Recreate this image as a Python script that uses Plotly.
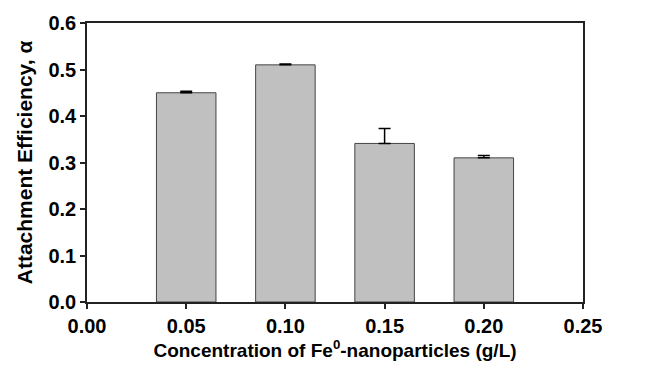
import plotly.graph_objects as go

concentrations = [0.05, 0.10, 0.15, 0.20]
alpha_values = [0.450, 0.510, 0.341, 0.310]
alpha_errors = [0.003, 0.002, 0.032, 0.005]
x_tick_vals = [0.00, 0.05, 0.10, 0.15, 0.20, 0.25]
x_tick_text = ["0.00", "0.05", "0.10", "0.15", "0.20", "0.25"]
y_tick_vals = [0.0, 0.1, 0.2, 0.3, 0.4, 0.5, 0.6]
y_tick_text = ["0.0", "0.1", "0.2", "0.3", "0.4", "0.5", "0.6"]

fig = go.Figure()
fig.add_trace(go.Bar(
    x=concentrations,
    y=alpha_values,
    width=0.03,
    marker=dict(color="#c0c0c0", line=dict(color="#454545", width=1)),
    error_y=dict(type="data", array=alpha_errors, arrayminus=[0] * len(alpha_errors),
                 symmetric=False, color="black", thickness=1.5, width=6),
    showlegend=False,
))

axis_common = dict(
    showline=True, linecolor="#222222", linewidth=1.5, mirror=True,
    ticks="outside", ticklen=5, tickwidth=1.5, tickcolor="#222222",
    showgrid=False, zeroline=False, automargin=False,
    tickfont=dict(family="Liberation Sans, Arial", size=20, color="black", weight="bold"),
)

fig.update_layout(
    width=668, height=376,
    margin=dict(l=87, r=85, t=23, b=74),
    plot_bgcolor="white", paper_bgcolor="white",
    font=dict(family="Liberation Sans, Arial", color="black", weight="bold"),
    xaxis=dict(range=[0, 0.25], tickvals=x_tick_vals, ticktext=x_tick_text,
               title=dict(text="Concentration of Fe<sup>0</sup>-nanoparticles (g/L)",
                          font=dict(size=19, weight="bold"), standoff=8),
               **axis_common),
    yaxis=dict(range=[0, 0.6], tickvals=y_tick_vals, ticktext=y_tick_text,
               title=dict(text="Attachment Efficiency, α",
                          font=dict(size=21, weight="bold"), standoff=10),
               **axis_common),
)

fig.write_html("out.html", config={"displayModeBar": False},
               post_script="document.body.style.margin='0';")
